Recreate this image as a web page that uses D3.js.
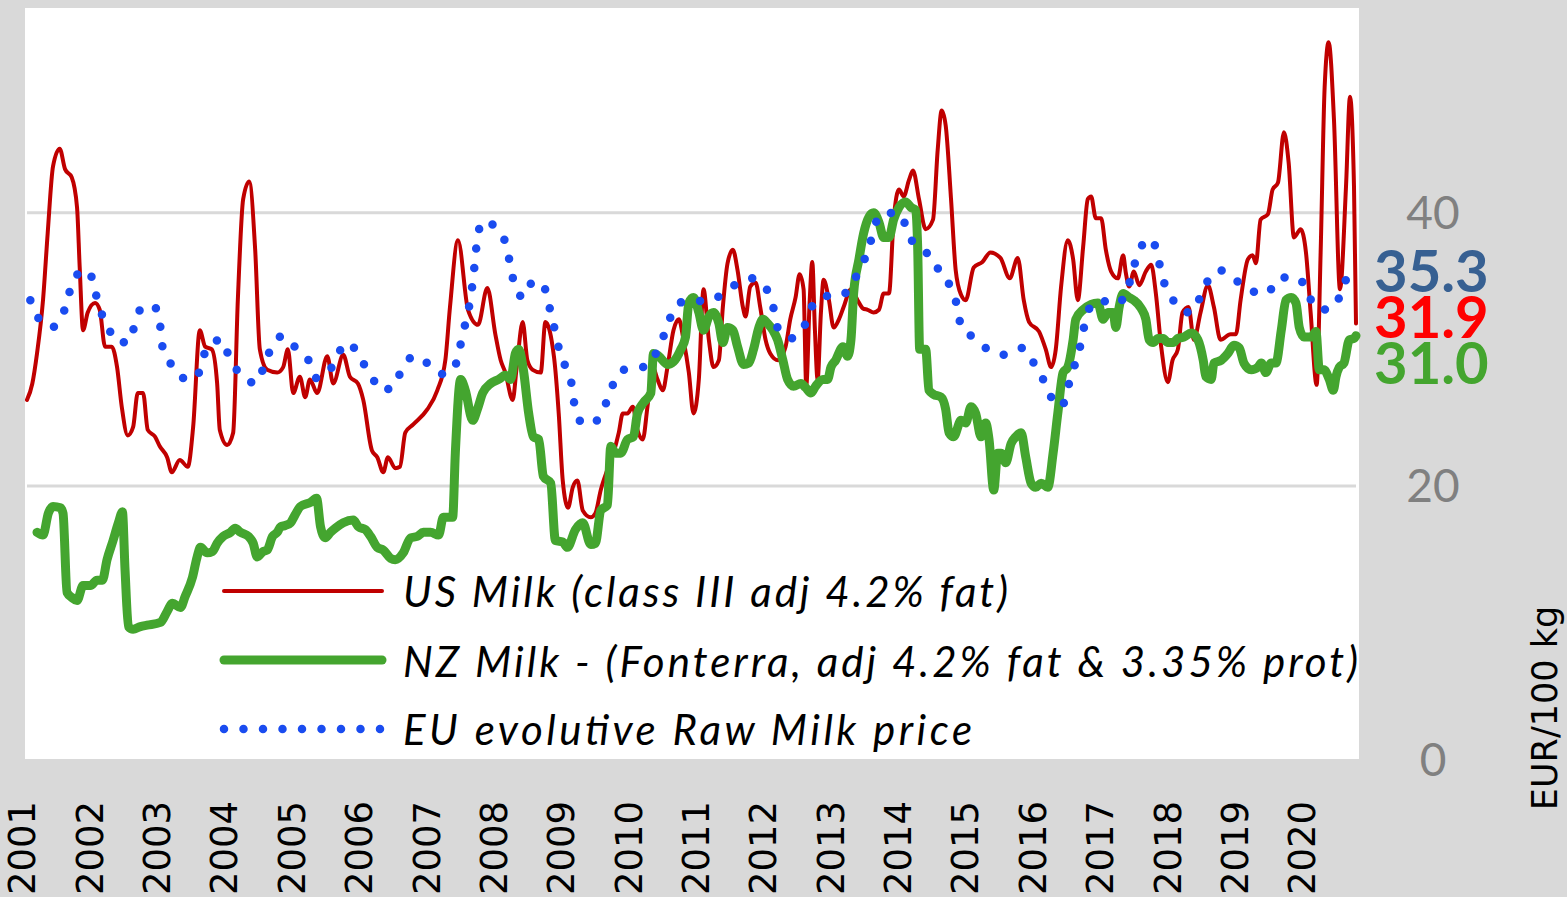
<!DOCTYPE html>
<html>
<head>
<meta charset="utf-8">
<script src="https://cdn.jsdelivr.net/npm/d3@7"></script>
<style>
  body { margin: 0; background: #d9d9d9; }
  svg { display: block; }
</style>
</head>
<body>
<svg id="chart"></svg>
<script>
// Series as [decimal year, EUR/100 kg]
const usMilk = [
  [2001.00,26.3],[2001.08,27.5],[2001.15,29.7],[2001.24,33.6],[2001.31,38.5],[2001.39,43.4],[2001.49,44.7],[2001.57,43.2],
  [2001.67,42.6],[2001.75,40.4],[2001.79,36.0],[2001.84,31.4],[2001.91,32.7],[2002.02,33.4],[2002.09,32.9],[2002.17,30.2],
  [2002.27,30.2],[2002.35,28.7],[2002.42,25.8],[2002.51,23.7],[2002.59,24.3],[2002.66,26.8],[2002.74,26.8],[2002.81,24.1],
  [2002.92,23.6],[2002.99,22.9],[2003.10,22.1],[2003.17,21.0],[2003.29,21.9],[2003.41,21.4],[2003.49,24.3],[2003.59,31.4],
  [2003.67,30.2],[2003.77,30.0],[2003.85,27.5],[2003.89,24.1],[2004.00,23.0],[2004.09,23.9],[2004.16,33.6],[2004.24,41.0],
  [2004.33,42.3],[2004.42,37.3],[2004.49,30.0],[2004.60,28.5],[2004.75,28.3],[2004.84,28.7],[2004.91,30.0],[2004.99,26.8],
  [2005.09,28.0],[2005.17,26.5],[2005.24,27.8],[2005.35,26.8],[2005.50,29.5],[2005.59,27.5],[2005.74,29.6],[2005.84,28.0],
  [2005.96,27.5],[2006.04,26.3],[2006.17,22.6],[2006.25,22.1],[2006.34,21.0],[2006.41,22.1],[2006.52,21.3],[2006.59,21.4],
  [2006.67,23.9],[2006.79,24.5],[2007.00,25.6],[2007.15,27.0],[2007.27,29.2],[2007.34,33.1],[2007.46,38.0],[2007.61,32.9],
  [2007.76,31.8],[2007.90,34.5],[2008.02,31.1],[2008.10,29.2],[2008.17,28.3],[2008.28,26.3],[2008.34,28.7],[2008.43,32.0],
  [2008.50,29.2],[2008.58,28.5],[2008.70,28.3],[2008.77,32.0],[2008.90,29.4],[2008.97,25.3],[2009.03,20.4],[2009.11,18.4],
  [2009.18,19.9],[2009.25,20.4],[2009.33,18.2],[2009.45,17.7],[2009.52,18.0],[2009.60,19.7],[2009.70,21.2],[2009.79,22.4],
  [2009.87,23.9],[2009.93,25.3],[2010.00,25.3],[2010.08,25.8],[2010.15,24.1],[2010.23,23.4],[2010.30,25.8],[2010.38,28.7],
  [2010.45,27.8],[2010.53,27.0],[2010.60,28.7],[2010.69,31.4],[2010.77,32.2],[2010.84,30.7],[2010.92,28.3],[2010.99,25.3],
  [2011.07,27.8],[2011.14,34.4],[2011.22,30.7],[2011.29,28.7],[2011.37,29.2],[2011.43,33.1],[2011.50,36.3],[2011.58,37.3],
  [2011.65,35.8],[2011.73,33.1],[2011.77,32.4],[2011.84,34.6],[2011.92,34.9],[2011.99,33.1],[2012.07,30.7],[2012.14,29.7],
  [2012.26,29.2],[2012.37,30.2],[2012.44,32.2],[2012.52,33.8],[2012.58,35.5],[2012.64,34.4],[2012.68,27.3],[2012.73,33.4],
  [2012.77,36.4],[2012.81,31.4],[2012.85,27.8],[2012.90,32.7],[2012.94,35.1],[2013.02,33.6],[2013.09,31.6],[2013.17,32.2],
  [2013.24,33.1],[2013.35,34.4],[2013.45,33.6],[2013.53,33.0],[2013.60,32.9],[2013.69,32.7],[2013.77,32.9],[2013.84,34.1],
  [2013.92,34.1],[2013.99,39.5],[2014.07,41.7],[2014.14,41.2],[2014.22,42.4],[2014.28,43.1],[2014.37,41.0],[2014.47,38.8],
  [2014.58,39.5],[2014.65,44.6],[2014.71,47.5],[2014.77,46.4],[2014.85,41.0],[2014.92,35.8],[2015.00,34.0],[2015.07,33.6],
  [2015.19,36.0],[2015.32,36.4],[2015.44,37.1],[2015.59,36.7],[2015.73,35.2],[2015.85,36.7],[2015.94,33.6],[2016.02,32.0],
  [2016.17,31.3],[2016.27,30.0],[2016.35,28.7],[2016.42,30.0],[2016.50,34.6],[2016.60,38.0],[2016.68,36.6],[2016.75,33.6],
  [2016.83,37.5],[2016.90,41.0],[2016.95,41.2],[2017.02,39.6],[2017.10,39.6],[2017.17,37.3],[2017.25,35.7],[2017.35,35.2],
  [2017.43,36.9],[2017.47,35.6],[2017.52,34.6],[2017.59,35.7],[2017.67,34.7],[2017.77,35.7],[2017.85,36.2],[2017.92,34.1],
  [2018.00,30.2],[2018.10,27.6],[2018.17,29.2],[2018.25,30.0],[2018.32,32.7],[2018.41,33.1],[2018.49,30.7],[2018.59,32.7],
  [2018.70,34.7],[2018.79,33.1],[2018.89,30.7],[2019.04,31.1],[2019.12,31.1],[2019.19,33.6],[2019.30,36.6],[2019.37,36.9],
  [2019.42,36.3],[2019.49,39.5],[2019.60,39.9],[2019.67,41.7],[2019.75,42.2],[2019.84,45.9],[2019.91,43.7],[2019.99,38.2],
  [2020.09,38.8],[2020.17,37.1],[2020.24,32.7],[2020.33,27.4],[2020.39,37.1],[2020.45,49.2],[2020.51,52.5],[2020.59,46.8],
  [2020.68,34.4],[2020.77,41.9],[2020.83,48.5],[2020.89,41.9],[2020.92,31.9]
];

const nzMilk = [
  [2001.15,16.6],[2001.24,16.4],[2001.32,18.0],[2001.39,18.5],[2001.50,18.4],[2001.54,18.0],[2001.60,12.2],[2001.68,11.8],
  [2001.75,11.6],[2001.84,12.7],[2001.95,12.7],[2002.05,13.1],[2002.13,13.1],[2002.20,14.6],[2002.29,16.0],[2002.37,17.3],
  [2002.43,18.1],[2002.47,13.8],[2002.52,9.7],[2002.59,9.5],[2002.70,9.7],[2002.80,9.8],[2003.00,10.0],[2003.10,10.8],
  [2003.18,11.4],[2003.30,11.1],[2003.37,11.9],[2003.48,13.3],[2003.55,14.8],[2003.60,15.5],[2003.70,15.1],[2003.78,15.2],
  [2003.85,15.8],[2003.94,16.3],[2004.05,16.6],[2004.12,16.9],[2004.20,16.6],[2004.32,16.3],[2004.39,15.8],[2004.45,14.8],
  [2004.54,15.2],[2004.60,15.3],[2004.68,16.3],[2004.75,16.6],[2004.80,17.0],[2004.87,17.1],[2004.95,17.3],[2005.02,17.9],
  [2005.10,18.5],[2005.25,18.8],[2005.34,19.1],[2005.40,17.0],[2005.47,16.2],[2005.55,16.6],[2005.62,16.9],[2005.74,17.3],
  [2005.89,17.5],[2005.97,17.0],[2006.07,16.8],[2006.15,16.3],[2006.25,15.5],[2006.34,15.3],[2006.45,14.7],[2006.52,14.6],
  [2006.64,15.1],[2006.75,16.2],[2006.85,16.3],[2006.94,16.6],[2007.05,16.6],[2007.17,16.4],[2007.24,17.7],[2007.38,17.7],
  [2007.42,22.4],[2007.50,27.8],[2007.57,27.0],[2007.68,24.8],[2007.75,25.6],[2007.83,26.8],[2007.95,27.5],[2008.07,27.8],
  [2008.17,28.1],[2008.25,27.8],[2008.32,29.7],[2008.37,30.0],[2008.44,28.5],[2008.52,25.3],[2008.59,23.6],[2008.67,23.4],
  [2008.74,20.7],[2008.85,20.2],[2008.92,16.0],[2009.03,15.9],[2009.10,15.5],[2009.22,16.8],[2009.33,17.3],[2009.45,15.7],
  [2009.52,15.8],[2009.60,18.2],[2009.70,18.6],[2009.75,22.9],[2009.82,22.4],[2009.90,22.4],[2010.00,23.4],[2010.09,23.6],
  [2010.15,25.3],[2010.24,26.1],[2010.35,26.8],[2010.39,29.7],[2010.47,29.5],[2010.60,28.9],[2010.69,29.1],[2010.80,30.0],
  [2010.87,30.9],[2010.92,33.4],[2010.99,33.8],[2011.07,32.7],[2011.14,31.4],[2011.22,32.4],[2011.29,32.7],[2011.37,31.9],
  [2011.43,30.5],[2011.50,31.6],[2011.58,31.4],[2011.65,30.2],[2011.74,28.9],[2011.82,29.0],[2011.89,30.0],[2011.97,31.6],
  [2012.03,32.2],[2012.10,31.9],[2012.18,31.4],[2012.25,30.7],[2012.33,29.2],[2012.40,27.8],[2012.49,27.3],[2012.60,27.5],
  [2012.67,27.2],[2012.75,26.8],[2012.82,27.3],[2012.93,27.8],[2013.00,27.8],[2013.05,28.7],[2013.12,29.2],[2013.23,30.2],
  [2013.30,29.5],[2013.35,30.7],[2013.39,34.1],[2013.47,36.6],[2013.54,38.5],[2013.62,39.7],[2013.69,40.0],[2013.77,39.3],
  [2013.84,38.2],[2013.92,38.2],[2013.99,39.5],[2014.07,40.4],[2014.17,40.8],[2014.25,40.4],[2014.32,40.2],[2014.35,37.5],
  [2014.38,30.0],[2014.47,30.0],[2014.52,27.0],[2014.59,26.7],[2014.70,26.5],[2014.77,25.6],[2014.82,23.9],[2014.89,23.6],
  [2015.00,24.8],[2015.07,24.6],[2015.15,25.8],[2015.22,25.3],[2015.30,23.6],[2015.37,24.6],[2015.42,23.4],[2015.49,19.7],
  [2015.55,22.4],[2015.60,22.4],[2015.67,21.7],[2015.75,23.1],[2015.82,23.6],[2015.90,23.9],[2015.97,22.1],[2016.05,20.2],
  [2016.12,19.9],[2016.20,20.2],[2016.30,19.9],[2016.38,22.4],[2016.45,25.3],[2016.53,28.3],[2016.60,28.7],[2016.68,30.7],
  [2016.72,32.2],[2016.83,32.9],[2016.95,33.3],[2017.05,33.4],[2017.13,32.2],[2017.20,32.7],[2017.28,32.7],[2017.32,31.6],
  [2017.37,33.1],[2017.43,34.1],[2017.52,33.8],[2017.59,33.6],[2017.70,33.0],[2017.77,32.2],[2017.82,30.7],[2017.88,30.5],
  [2017.95,30.8],[2018.03,30.8],[2018.10,30.5],[2018.18,30.5],[2018.25,30.8],[2018.34,30.9],[2018.45,31.2],[2018.55,30.7],
  [2018.63,29.2],[2018.67,28.0],[2018.75,27.8],[2018.79,29.0],[2018.90,29.2],[2019.00,29.7],[2019.09,30.3],[2019.17,30.1],
  [2019.24,29.0],[2019.35,28.5],[2019.45,28.7],[2019.50,29.0],[2019.57,28.3],[2019.65,29.0],[2019.72,29.0],[2019.80,31.4],
  [2019.87,33.6],[2019.95,33.8],[2020.02,33.4],[2020.07,31.6],[2020.14,30.9],[2020.25,30.9],[2020.32,31.3],[2020.37,28.5],
  [2020.44,28.5],[2020.52,27.8],[2020.58,27.0],[2020.62,28.0],[2020.67,28.7],[2020.74,29.0],[2020.82,30.7],[2020.89,30.8],
  [2020.92,31.0]
];

const euMilk = [
  [2001.05,33.6],[2001.17,32.3],[2001.36,31.6],[2001.54,32.6],[2001.62,33.9],[2001.71,35.3],[2001.92,35.8],[2002.01,34.5],
  [2002.08,33.1],[2002.20,31.9],[2002.32,30.6],[2002.53,30.5],[2002.62,31.9],[2002.74,33.2],[2002.94,33.0],[2003.00,31.6],
  [2003.03,30.2],[2003.16,28.9],[2003.34,27.9],[2003.54,27.9],[2003.63,29.3],[2003.76,30.5],[2003.93,30.7],[2004.03,29.4],
  [2004.20,28.2],[2004.44,27.5],[2004.54,28.6],[2004.65,30.0],[2004.84,31.0],[2005.01,30.2],[2005.22,29.2],[2005.34,27.9],
  [2005.53,28.4],[2005.65,29.6],[2005.83,30.5],[2005.98,29.4],[2006.15,28.2],[2006.30,27.0],[2006.51,27.3],[2006.61,28.5],
  [2006.82,29.5],[2006.97,29.1],[2007.20,28.2],[2007.38,28.4],[2007.47,29.7],[2007.53,31.1],[2007.60,32.5],[2007.65,33.8],
  [2007.72,36.7],[2007.75,38.2],[2007.84,39.4],[2008.05,38.8],[2008.19,37.5],[2008.25,36.0],[2008.31,34.7],[2008.44,33.8],
  [2008.59,35.0],[2008.74,34.7],[2008.82,33.3],[2008.89,31.9],[2008.95,30.5],[2009.03,29.2],[2009.15,27.8],[2009.19,26.4],
  [2009.25,25.1],[2009.36,24.5],[2009.57,24.9],[2009.69,26.2],[2009.79,27.5],[2009.94,28.5],[2010.14,28.6],[2010.36,29.0],
  [2010.47,30.3],[2010.60,31.6],[2010.69,33.0],[2010.92,33.6],[2011.20,33.5],[2011.41,34.0],[2011.64,34.8],[2011.88,35.2],
  [2012.10,34.3],[2012.19,33.0],[2012.25,31.6],[2012.45,30.8],[2012.64,31.6],[2012.75,33.0],[2012.94,33.9],[2013.18,33.9],
  [2013.38,34.9],[2013.50,36.1],[2013.62,37.4],[2013.69,38.8],[2013.84,40.0],[2014.10,39.9],[2014.20,38.5],[2014.38,37.4],
  [2014.59,36.6],[2014.70,35.4],[2014.88,34.3],[2014.95,32.9],[2015.01,31.5],[2015.22,30.8],[2015.43,29.9],[2015.67,29.6],
  [2015.93,30.1],[2016.09,29.0],[2016.23,27.8],[2016.35,26.5],[2016.51,25.8],[2016.60,27.2],[2016.68,28.5],[2016.77,29.9],
  [2016.83,31.3],[2016.89,32.7],[2017.07,33.6],[2017.34,33.3],[2017.49,34.4],[2017.58,35.8],[2017.65,37.1],[2017.85,38.1],
  [2017.95,36.8],[2018.01,35.4],[2018.13,34.1],[2018.28,32.9],[2018.45,32.7],[2018.60,34.0],[2018.72,35.2],[2018.88,35.8],
  [2019.11,35.1],[2019.33,34.3],[2019.59,34.1],[2019.75,35.2],[2019.98,35.3],[2020.19,34.4],[2020.29,33.1],[2020.52,32.9],
  [2020.67,33.8],[2020.79,35.2],[2020.88,35.3]
];

const years = d3.range(2001, 2021);
const yTicks = [0, 20, 40];
const seriesNames = [
  "US Milk (class III adj 4.2% fat)",
  "NZ Milk - (Fonterra, adj 4.2% fat & 3.35% prot)",
  "EU evolutive Raw Milk price"
];
const axisTitle = "EUR/100 kg";

const W = 1567, H = 897;
const svg = d3.select("#chart").attr("width", W).attr("height", H);

svg.append("rect").attr("width", W).attr("height", H).attr("fill", "#d9d9d9");

const x = d3.scaleLinear().domain([2001, 2020.92]).range([27, 1356]);
const y = d3.scaleLinear().domain([0, 55]).range([759, 8]);
// category labels sit on their own slots under the plot
const xLabel = d3.scalePoint().domain(years).range([22, 1302]);

// plot area
svg.append("rect")
  .attr("x", 25).attr("y", y(55))
  .attr("width", 1334).attr("height", y(0) - y(55))
  .attr("fill", "#fff");

// gridlines
svg.selectAll(".grid")
  .data(yTicks.filter(d => d > 0))
  .enter().append("line")
  .attr("x1", 27).attr("x2", 1356)
  .attr("y1", d => y(d)).attr("y2", d => y(d))
  .attr("stroke", "#d9d9d9").attr("stroke-width", 3);

// right tick labels
svg.selectAll(".ytick")
  .data(yTicks)
  .enter().append("text")
  .attr("x", 1433).attr("y", d => y(d)).attr("dy", "0.36em")
  .attr("text-anchor", "middle")
  .style("font-family", "Lato, 'Open Sans', sans-serif")
  .style("font-size", "46px")
  .attr("fill", "#808080")
  .text(d => d);

// year labels
svg.selectAll(".year")
  .data(years)
  .enter().append("text")
  .attr("transform", d => "translate(" + xLabel(d) + ",895) rotate(-90)")
  .attr("dy", "0.36em")
  .style("font-family", "'DejaVu Sans', sans-serif")
  .style("font-size", "37px")
  .attr("fill", "#000")
  .text(d => d);

// axis title
svg.append("text")
  .attr("transform", "translate(1545,708) rotate(-90)")
  .attr("dy", "0.35em")
  .attr("text-anchor", "middle")
  .style("font-family", "'DejaVu Sans', sans-serif")
  .style("font-size", "35px")
  .attr("fill", "#000")
  .text(axisTitle);

const line = d3.line()
  .x(d => x(d[0]))
  .y(d => y(d[1]))
  .curve(d3.curveMonotoneX);

const styles = [
  { data: usMilk, color: "#c00000", width: 4, dash: null },
  { data: nzMilk, color: "#44a52f", width: 9, dash: null },
  { data: euMilk, color: "#1a4cf0", width: 8.5, dash: "0 19.5" }
];

styles.forEach(s => {
  svg.append("path")
    .datum(s.data)
    .attr("d", line)
    .attr("fill", "none")
    .attr("stroke", s.color)
    .attr("stroke-width", s.width)
    .attr("stroke-linejoin", "round")
    .attr("stroke-linecap", "round")
    .attr("stroke-dasharray", s.dash);
});

// legend
const legend = svg.append("g");
const legendY = [591, 660, 729];
const legendBase = [607, 677, 745];
const legendLen = [605, 955, 569];
styles.forEach((s, i) => {
  legend.append("line")
    .attr("x1", 224).attr("x2", 382)
    .attr("y1", legendY[i]).attr("y2", legendY[i])
    .attr("stroke", s.color)
    .attr("stroke-width", s.width)
    .attr("stroke-linecap", "round")
    .attr("stroke-dasharray", s.dash);
  legend.append("text")
    .attr("x", 403).attr("y", legendBase[i])
    .attr("textLength", legendLen[i])
    .attr("lengthAdjust", "spacing")
    .style("font-family", "Lato, 'Open Sans', sans-serif")
    .style("font-style", "italic")
    .style("font-size", "42px")
    .attr("fill", "#000")
    .text(seriesNames[i]);
});

// last-value labels, stacked from the top
const lastLabels = [
  { v: euMilk[euMilk.length - 1][1], color: "#376092" },
  { v: usMilk[usMilk.length - 1][1], color: "#ff0000" },
  { v: nzMilk[nzMilk.length - 1][1], color: "#44a52f" }
];
svg.selectAll(".last")
  .data(lastLabels)
  .enter().append("text")
  .attr("x", 1374)
  .attr("y", (d, i) => y(lastLabels[0].v) - 6 + i * 46)
  .attr("dy", "0.36em")
  .style("font-family", "Lato, 'Open Sans', sans-serif")
  .style("font-weight", "bold")
  .style("font-size", "58px")
  .attr("fill", d => d.color)
  .text(d => d.v.toFixed(1));
</script>
</body>
</html>
